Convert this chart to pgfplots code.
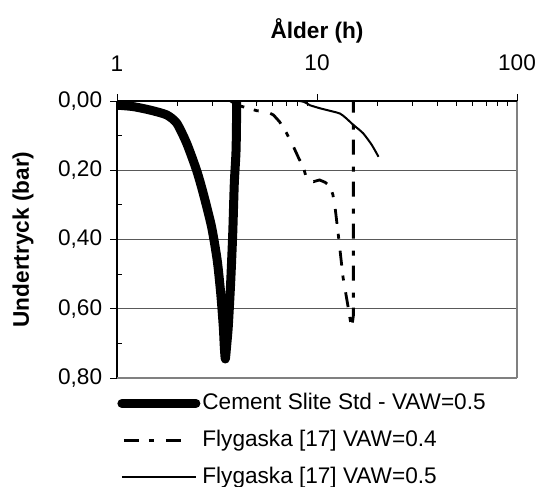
\documentclass[border=0pt]{standalone}
\usepackage{fontspec}
\setmainfont{Liberation Sans}
\usepackage{pgfplots}
\pgfplotsset{compat=1.18}
\begin{document}
\fontsize{11.3bp}{13.5bp}\selectfont
\begin{tikzpicture}
\begin{axis}[
  at={(0,0)}, anchor=south west,
  scale only axis, width=200bp, height=138.5bp,
  xmode=log, xmin=1, xmax=100,
  ymin=0, ymax=0.8, y dir=reverse,
  xtick={1,10,100}, xticklabels={1,10,100},
  minor xtick={2,3,4,5,6,7,8,9,20,30,40,50,60,70,80,90},
  ytick={0,0.2,0.4,0.6,0.8}, yticklabels={{0,00},{0,20},{0,40},{0,60},{0,80}},
  minor ytick={0.1,0.3,0.5,0.7},
  xtick pos=right, ytick pos=left, xticklabel pos=right, yticklabel pos=left,
  tick align=outside,
  major tick length=3.5bp, minor tick length=2.5bp,
  every minor x tick/.append style={yshift=-2.5bp},
  every minor y tick/.append style={xshift=2.5bp},
  xticklabel style={yshift=7.5bp},
  tick style={black, line width=0.5bp},
  axis line style={draw=none},
  ymajorgrids, major grid style={black!65, line width=0.5bp},
  clip mode=individual,
  title={\textbf{Ålder (h)}},
  title style={at={(axis description cs:0.5,1)}, anchor=center, yshift=29bp},
  ylabel={\textbf{Undertryck (bar)}},
  ylabel style={at={(axis description cs:-0.235,0.5)}, anchor=center},
  legend style={at={(axis description cs:0,0)}, anchor=north west, yshift=-6bp,
    draw=none, fill=none, inner sep=0pt, row sep=5.5bp, column sep=0bp,
    nodes={inner sep=1bp, text height=8.5bp, text depth=2.5bp}},
  legend cell align=left,
  legend image code/.code={\draw[#1] (0bp,0bp) -- (37bp,0bp);},
]
\addplot[black, line width=4.5bp, line cap=round, line join=round, smooth, tension=0.4] coordinates {
(1,0.012) (1.2,0.016) (1.46,0.026) (1.77,0.04) (1.99,0.064) (2.23,0.122) (2.5,0.2)
(2.7,0.267) (2.97,0.363) (3.17,0.46) (3.3,0.555) (3.4,0.652) (3.44,0.71) (3.48,0.745)
(3.53,0.71) (3.6,0.652) (3.7,0.526) (3.79,0.383) (3.86,0.237) (3.94,0.14) (3.97,0.0)};
\addlegendentry{Cement Slite Std - VAW=0.5}
\addplot[black, line width=1.4bp, dash pattern=on 7.5bp off 5bp on 2.5bp off 6bp,
  legend image code/.code={\draw[black, line width=1.4bp, dash pattern=on 7.5bp off 5bp on 2.5bp off 6bp] (1bp,0bp) -- (32bp,0bp);}] coordinates {
(3.7,0) (4.0,0.012) (5.0,0.028) (5.6,0.031) (6.05,0.04) (6.5,0.06) (7.05,0.093) (7.6,0.13)
(8.1,0.165) (8.54,0.19) (8.9,0.228) (9.6,0.233) (10.3,0.228) (11.0,0.235) (11.6,0.247)
(12.0,0.27) (12.3,0.305) (12.8,0.39) (13.5,0.51) (14.3,0.594) (14.9,0.656) (15.2,0.62) (15.2,0.0)};
\addlegendentry{Flygaska [17] VAW=0.4}
\addplot[black, line width=1bp, smooth, tension=0.4] coordinates {
(5,0) (8.2,0) (9.2,0.012) (10.35,0.021) (11.2,0.026) (13.0,0.036) (14.0,0.05) (15.2,0.069)
(17.0,0.093) (18.8,0.127) (20.3,0.161)};
\addlegendentry{Flygaska [17] VAW=0.5}
\draw[black, line width=1bp] (axis cs:1,0) -- (axis cs:1,0.8);
\draw[gray, line width=0.8bp] (axis cs:100,0) -- (axis cs:100,0.8);
\draw[gray, line width=1bp] (axis cs:1,0.8) -- (axis cs:100,0.8);
\draw[black, line width=1.1bp] (axis cs:1,0) -- (axis cs:100,0);
\end{axis}
\pgfresetboundingbox
\useasboundingbox (-58.5bp,-54.5bp) rectangle (211bp,189bp);
\end{tikzpicture}
\end{document}
